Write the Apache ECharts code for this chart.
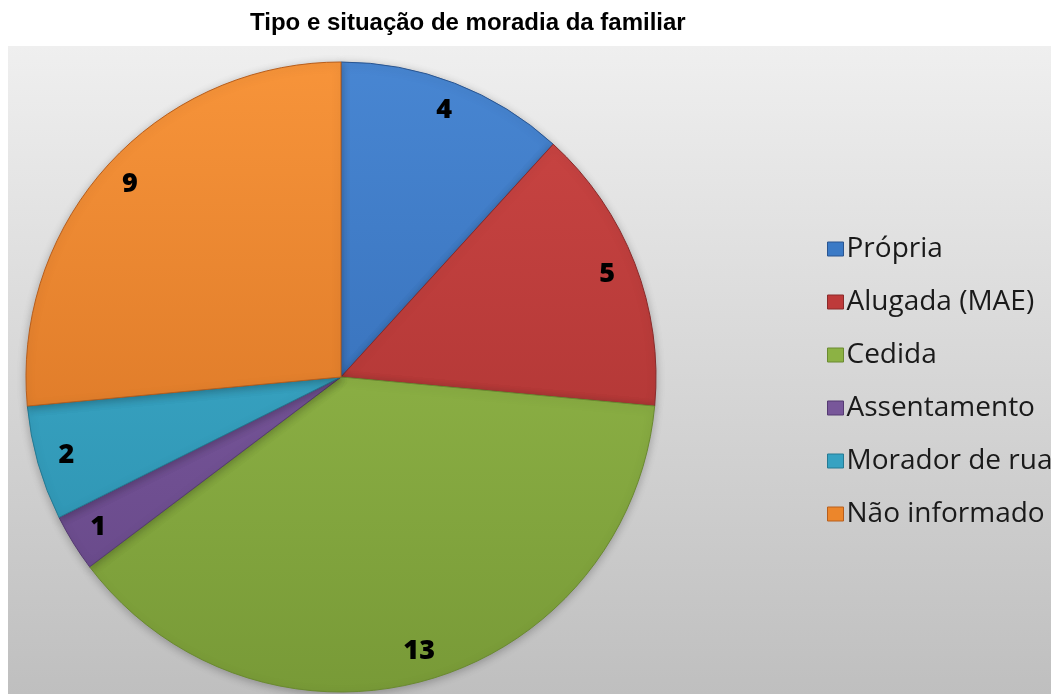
<!DOCTYPE html>
<html>
<head>
<meta charset="utf-8">
<script src="https://cdn.jsdelivr.net/npm/echarts@6/dist/echarts.min.js"></script>
<style>
html,body{margin:0;padding:0;background:#fff;}
#chart{width:1051px;height:694px;}
</style>
</head>
<body>
<div id="chart"></div>
<script>
const titleText = "Tipo e situação de moradia da familiar";
const categories = ["Própria", "Alugada (MAE)", "Cedida", "Assentamento", "Morador de rua", "Não informado"];
const values = [4, 5, 13, 1, 2, 9];
const colorsTop = ["#4886d2", "#cc4644", "#9cc250", "#8763ab", "#42b3d2", "#f7943a"];
const colorsBottom = ["#2d64ac", "#a22e2d", "#789a37", "#634584", "#2a8dab", "#cf6b1e"];
const colorsMid = ["#3b7ac6", "#be3a3a", "#8cb244", "#78579a", "#36a2c2", "#ec862b"];
const borderColors = ["#2a5590", "#8a2a2a", "#6a8a30", "#553a72", "#257a93", "#b85e1c"];

const chart = echarts.init(document.getElementById('chart'));
const cx = 341, cy = 377, R = 315;

function grad(i) {
  return new echarts.graphic.LinearGradient(0, cy - R, 0, cy + R, [
    {offset: 0, color: colorsTop[i]},
    {offset: 1, color: colorsBottom[i]}
  ], true);
}

const mainData = categories.map((c, i) => ({
  name: c, value: values[i],
  itemStyle: {color: grad(i), borderColor: borderColors[i], borderWidth: 1}
}));
const labelData = categories.map((c, i) => ({name: c, value: values[i]}));

chart.setOption({
  animation: false,
  backgroundColor: '#ffffff',
  graphic: [{
    type: 'rect', z: -10, silent: true,
    shape: {x: 8, y: 46, width: 1043, height: 648},
    style: {fill: new echarts.graphic.LinearGradient(0, 0, 0, 1, [
      {offset: 0, color: '#efefef'},
      {offset: 1, color: '#bfbfbf'}
    ])}
  }],
  title: {
    text: titleText,
    left: 250, top: 11, padding: 0,
    textStyle: {fontFamily: 'Liberation Sans', fontSize: 24, fontWeight: 'bold', color: '#000'}
  },
  legend: {
    orient: 'vertical',
    left: 822, top: 228,
    itemWidth: 16, itemHeight: 14, itemGap: 21,
    icon: 'rect',
    selectedMode: false,
    textStyle: {fontFamily: 'Open Sans', fontSize: 28, color: '#1a1a1a', lineHeight: 32, padding: [0,0,0,-2]},
    data: categories.map((c, i) => ({name: c, itemStyle: {color: colorsMid[i], borderColor: borderColors[i], borderWidth: 1}}))
  },
  series: [{
    type: 'pie',
    center: [cx, cy],
    radius: [0, R],
    startAngle: 90,
    clockwise: true,
    label: {show: false},
    labelLine: {show: false},
    emphasis: {disabled: true},
    itemStyle: {shadowBlur: 8, shadowColor: 'rgba(0,0,0,0.25)', shadowOffsetY: 2},
    data: mainData
  }, {
    type: 'pie',
    center: [cx, cy],
    radius: [250, R],
    startAngle: 90,
    clockwise: true,
    silent: true,
    itemStyle: {color: 'rgba(0,0,0,0)', borderWidth: 0},
    label: {show: true, position: 'inside', formatter: '{c}', fontFamily: 'Open Sans', fontWeight: 800, fontSize: 27, color: '#000'},
    labelLine: {show: false},
    emphasis: {disabled: true},
    data: labelData
  }]
});
</script>
</body>
</html>
